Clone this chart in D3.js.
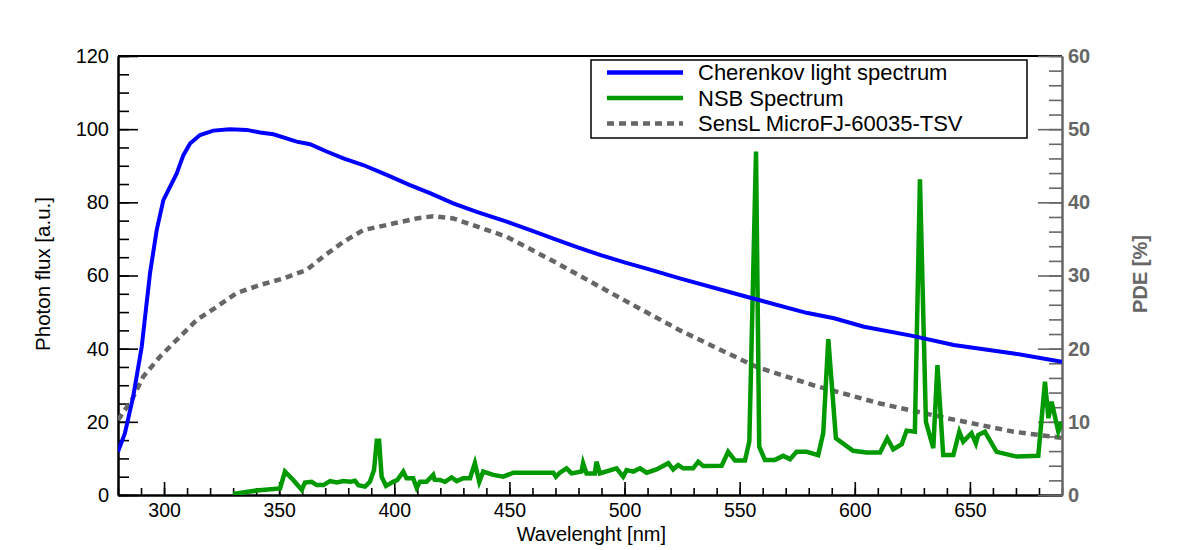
<!DOCTYPE html>
<html>
<head>
<meta charset="utf-8">
<script src="https://cdn.jsdelivr.net/npm/d3@7"></script>
<style>
  html, body { margin: 0; padding: 0; background: #fff; }
  svg { display: block; font-family: "Liberation Sans", Arial, Helvetica, sans-serif; }
</style>
</head>
<body>
<svg id="chart" width="1182" height="550"></svg>
<script>
// ---- data ----
const cherenkovWl = [280, 283, 286.6, 290.3, 293.9, 296.8, 299.7, 305.5, 308.4, 311.3, 315.6, 321.4, 328.6, 335.9, 341.7, 347.5, 357.6, 363.4, 370.6, 377.9, 386.5, 396.7, 406.8, 415.5, 425.6, 435.8, 448.8, 460, 470, 480, 490, 500, 510, 524, 553, 579, 591, 604, 625, 643, 669, 685.5, 690];
const cherenkovFlux = [11.8, 16.9, 26.9, 40.5, 60.6, 72.4, 80.6, 87.9, 92.9, 96.1, 98.4, 99.6, 100, 99.8, 99.1, 98.6, 96.6, 95.9, 93.9, 92, 90.2, 87.5, 84.7, 82.5, 79.7, 77.4, 74.7, 72.2, 69.9, 67.6, 65.5, 63.6, 61.8, 59.2, 54.2, 49.8, 48.3, 46, 43.5, 41, 38.7, 36.9, 36.4];

const nsbWl = [330, 340, 350.4, 352.5, 356.1, 359.8, 361.2, 364.1, 366.3, 369.2, 372.1, 375, 377.9, 380.8, 382.9, 384.4, 387.3, 389.4, 391.2, 392.4, 393.4, 394.5, 396.4, 399.5, 401.3, 403.9, 405.3, 408.2, 409.7, 411.2, 414, 416.9, 417.5, 419.8, 422, 424.9, 427.1, 430, 432.9, 435, 436.9, 438.6, 443, 447.3, 451.7, 469.1, 470.2, 471.9, 474.8, 477, 481.3, 482, 483.5, 487.1, 487.8, 489.3, 496.5, 499.4, 500.9, 503.8, 506.7, 509.6, 513.9, 519, 521.1, 523.3, 525.5, 529.8, 532, 534.2, 542.2, 545, 548, 552.3, 554.2, 557.1, 558.5, 561, 565.3, 568.9, 571.9, 574.7, 579.1, 584.1, 586.3, 588.5, 591.8, 599.3, 605.1, 611, 614.1, 616.7, 620.4, 622.5, 626.1, 628.3, 630.9, 634.1, 635.9, 638.4, 642.8, 645.4, 647.1, 650.7, 652.6, 653.6, 656.5, 661.6, 670.3, 679.7, 682.6, 684.1, 685.5, 688.4, 690];
const nsbFlux = [0.3, 1.2, 1.8, 6.4, 4.1, 1.4, 3.4, 3.6, 2.7, 2.7, 3.8, 3.4, 3.8, 3.6, 3.9, 2.7, 2.3, 3.6, 6.8, 14.8, 14.8, 5, 2.5, 3.6, 4.1, 6.4, 4.6, 4.6, 2, 3.6, 3.6, 5.5, 4.2, 4.1, 3.6, 4.8, 3.8, 4.6, 4.6, 8.7, 3.6, 6.4, 5.5, 5, 6.1, 6.1, 5, 6.1, 7.3, 5.9, 6.4, 8.7, 5.9, 5.9, 9.1, 5.9, 7.3, 5, 6.8, 6.4, 7.3, 6.1, 7, 8.7, 7, 8.2, 7.3, 7.3, 9.1, 7.9, 8, 11.8, 9.4, 9.4, 14.6, 93.9, 13.2, 9.6, 9.6, 10.7, 9.8, 11.8, 11.8, 10.9, 16.9, 42.6, 15.5, 12.1, 11.6, 11.6, 15.5, 12.5, 13.9, 17.6, 17.3, 86.3, 20, 12.8, 35.5, 10.9, 10.9, 17.3, 14.6, 16.9, 14.1, 16.4, 17.3, 11.8, 10.5, 10.7, 31, 21, 25.5, 17.3, 20];

const pdeWl = [280, 286, 291, 298.2, 305.5, 314.1, 322.8, 331.5, 341.7, 351.8, 361.9, 369.2, 377.9, 386.5, 399.5, 409.7, 416.9, 425.6, 435.8, 448.8, 470, 500, 524.1, 538.6, 557.4, 582, 611, 640, 669, 690];
const pdeValues = [10.25, 13, 16.2, 18.9, 21.2, 23.9, 25.7, 27.6, 28.7, 29.6, 30.75, 32.6, 34.6, 36.2, 37.1, 37.8, 38.1, 37.8, 36.7, 35.3, 31.8, 26.6, 22.5, 20.3, 17.5, 15, 12.5, 10.5, 8.65, 7.8];

const xTicks = [300, 350, 400, 450, 500, 550, 600, 650];
const yLeftTicks = [0, 20, 40, 60, 80, 100, 120];
const yRightTicks = [0, 10, 20, 30, 40, 50, 60];

const seriesLabels = ["Cherenkov light spectrum", "NSB Spectrum", "SensL MicroFJ-60035-TSV"];

// ---- layout ----
const svg = d3.select("#chart");
const L = 118, R = 1062, T = 56, B = 495;
const FONT = '"Liberation Sans", Arial, Helvetica, sans-serif';
const BLUE = "#0000ff", GREEN = "#009900", GRAY = "#666666";

const x = d3.scaleLinear().domain([280, 690]).range([L, R]);
const yL = d3.scaleLinear().domain([0, 120]).range([B, T]);
const yR = d3.scaleLinear().domain([0, 60]).range([B, T]);

svg.append("defs").append("clipPath").attr("id", "clip")
  .append("rect").attr("x", L).attr("y", T).attr("width", R - L).attr("height", B - T);

// frame top
svg.append("line").attr("x1", L).attr("x2", R).attr("y1", T).attr("y2", T)
  .attr("stroke", "#000").attr("stroke-width", 2);

// ---- axes ----
function styleAxis(g, color, bold, size) {
  g.selectAll("path.domain").attr("stroke", color).attr("stroke-width", 2);
  g.selectAll(".tick line").attr("stroke", color).attr("stroke-width", 1.6);
  g.selectAll(".tick text").attr("fill", color).attr("font-size", size + "px")
    .attr("font-family", FONT).attr("font-weight", bold ? "bold" : "normal");
}

// bottom
const gxMinor = svg.append("g").attr("transform", `translate(0,${B})`)
  .call(d3.axisBottom(x).tickValues(d3.range(280, 691, 10)).tickSize(-7).tickSizeOuter(0).tickFormat(""));
styleAxis(gxMinor, "#000", false, 19.5);
const gx = svg.append("g").attr("transform", `translate(0,${B})`)
  .call(d3.axisBottom(x).tickValues(xTicks).tickSize(-13).tickSizeOuter(0).tickPadding(8).tickFormat(d3.format("d")));
styleAxis(gx, "#000", false, 19.5);
gx.selectAll(".tick text").attr("dy", "0.71em");

// left
const gyMinor = svg.append("g").attr("transform", `translate(${L},0)`)
  .call(d3.axisLeft(yL).tickValues(d3.range(0, 121, 5)).tickSize(-11).tickSizeOuter(0).tickFormat(""));
styleAxis(gyMinor, "#000", false, 20);
const gy = svg.append("g").attr("transform", `translate(${L},0)`)
  .call(d3.axisLeft(yL).tickValues(yLeftTicks).tickSize(-20).tickSizeOuter(0).tickPadding(9).tickFormat(d3.format("d")));
styleAxis(gy, "#000", false, 20);

// right (PDE)
const grMinor = svg.append("g").attr("transform", `translate(${R},0)`)
  .call(d3.axisRight(yR).tickValues(d3.range(0, 61, 2)).tickSize(-13).tickSizeOuter(0).tickFormat(""));
styleAxis(grMinor, GRAY, true, 20);
const gr = svg.append("g").attr("transform", `translate(${R},0)`)
  .call(d3.axisRight(yR).tickValues(yRightTicks).tickSize(-24).tickSizeOuter(0).tickPadding(6).tickFormat(d3.format("d")));
styleAxis(gr, GRAY, true, 20);

// ---- titles ----
svg.append("text").attr("x", 666).attr("y", 541).attr("text-anchor", "end")
  .attr("font-size", "20px").attr("font-family", FONT).text("Wavelenght [nm]");
svg.append("text").attr("transform", "translate(50,274) rotate(-90)").attr("text-anchor", "middle")
  .attr("font-size", "20.5px").attr("font-family", FONT).text("Photon flux [a.u.]");
svg.append("text").attr("transform", "translate(1147,274) rotate(-90)").attr("text-anchor", "middle")
  .attr("font-size", "20px").attr("font-weight", "bold").attr("fill", GRAY).attr("font-family", FONT).text("PDE [%]");

// ---- lines ----
const plot = svg.append("g").attr("clip-path", "url(#clip)");
const lineL = d3.line().x(d => x(d[0])).y(d => yL(d[1]));
const lineR = d3.line().x(d => x(d[0])).y(d => yR(d[1]));

plot.append("path").datum(pdeWl.map((w, i) => [w, pdeValues[i]]))
  .attr("d", lineR).attr("fill", "none").attr("stroke", GRAY).attr("stroke-width", 4.5)
  .attr("stroke-dasharray", "7,5");
plot.append("path").datum(nsbWl.map((w, i) => [w, nsbFlux[i]]))
  .attr("d", lineL).attr("fill", "none").attr("stroke", GREEN).attr("stroke-width", 4.5)
  .attr("stroke-linejoin", "miter");
plot.append("path").datum(cherenkovWl.map((w, i) => [w, cherenkovFlux[i]]))
  .attr("d", lineL).attr("fill", "none").attr("stroke", BLUE).attr("stroke-width", 4);

// ---- legend ----
const lg = svg.append("g");
lg.append("rect").attr("x", 591).attr("y", 60).attr("width", 436).attr("height", 78)
  .attr("fill", "#fff").attr("stroke", "#000").attr("stroke-width", 1.5);
const legStyles = [
  { color: BLUE, dash: null },
  { color: GREEN, dash: null },
  { color: GRAY, dash: "7,5" }
];
const legRows = [72.5, 98, 123.5];
seriesLabels.forEach((lab, i) => {
  const ln = lg.append("line").attr("x1", 607).attr("x2", 683).attr("y1", legRows[i]).attr("y2", legRows[i])
    .attr("stroke", legStyles[i].color).attr("stroke-width", 4.5);
  if (legStyles[i].dash) ln.attr("stroke-dasharray", legStyles[i].dash);
  lg.append("text").attr("x", 698).attr("y", legRows[i]).attr("dy", "0.36em")
    .attr("font-size", "22px").attr("font-family", FONT).text(lab);
});
</script>
</body>
</html>
